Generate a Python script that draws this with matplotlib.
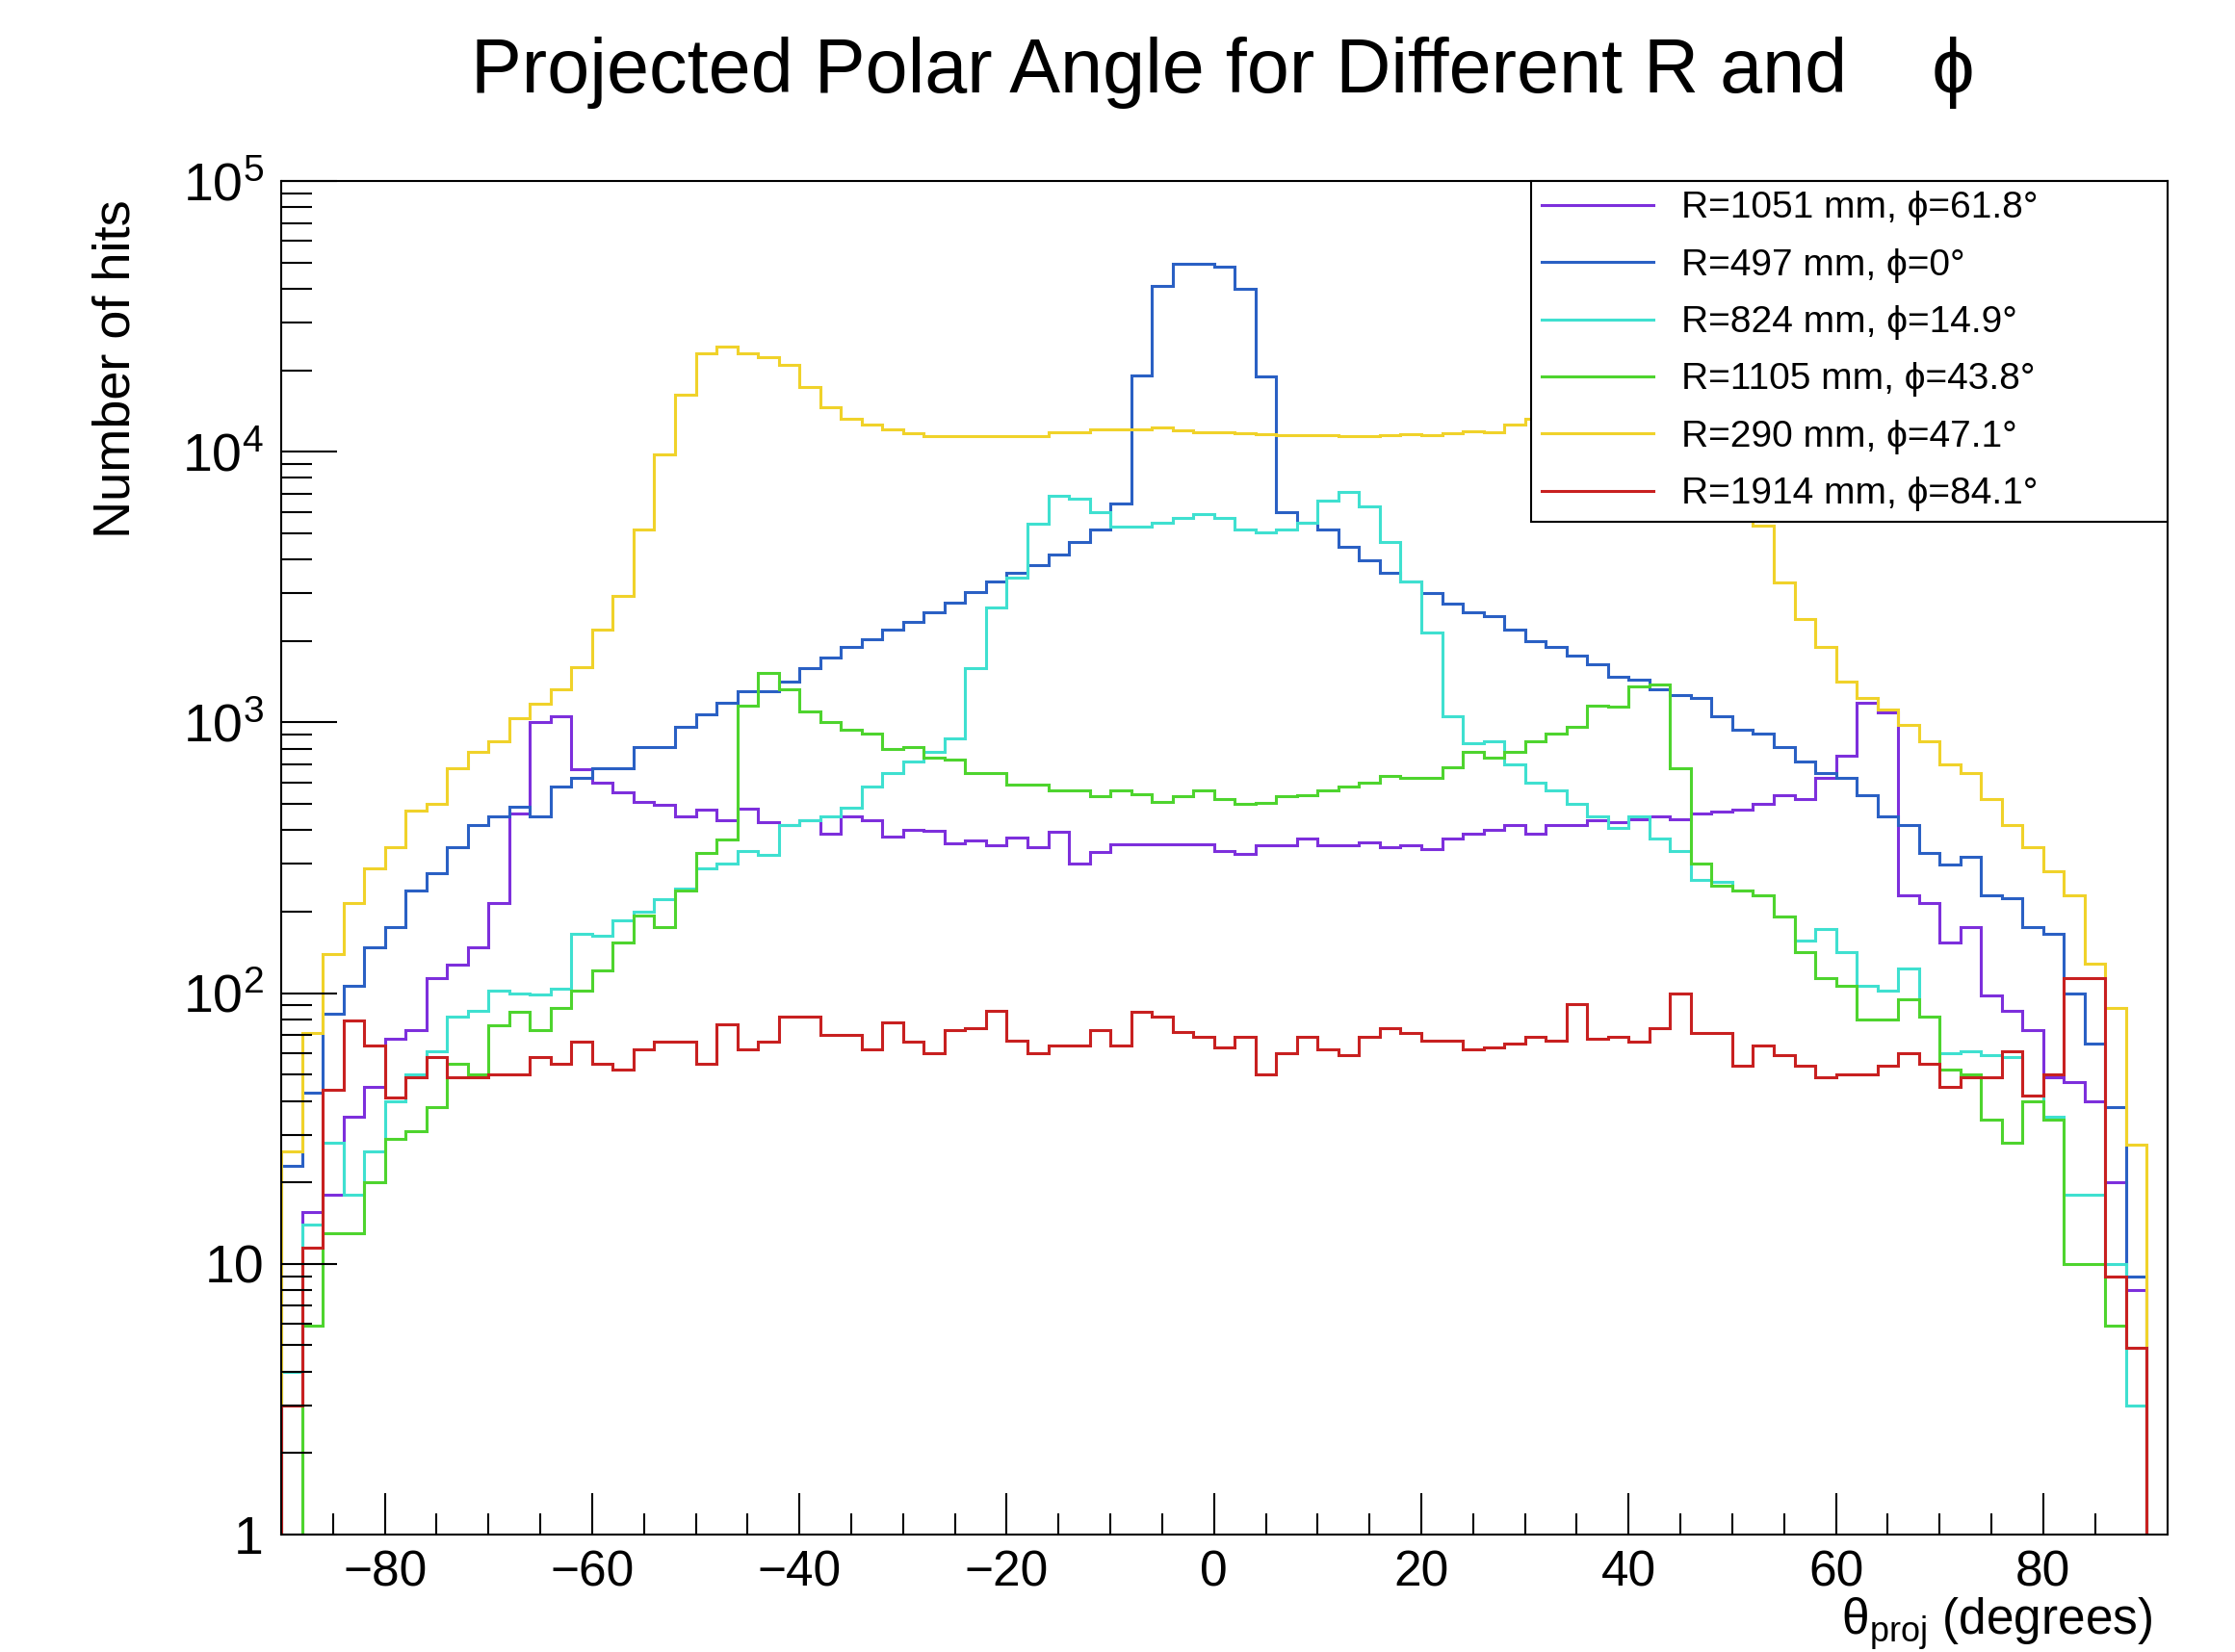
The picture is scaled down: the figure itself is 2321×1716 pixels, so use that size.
import matplotlib.pyplot as plt
import numpy as np
from matplotlib.lines import Line2D
from matplotlib.ticker import NullFormatter

plt.rcParams['font.family'] = ['Liberation Sans', 'DejaVu Sans']
plt.rcParams['mathtext.fontset'] = 'custom'
plt.rcParams['mathtext.rm'] = 'Liberation Sans'
plt.rcParams['mathtext.it'] = 'Liberation Sans:italic'

# 90 bins of 2 degrees from -90 to 90
edges = np.arange(-90, 91, 2)

labels = ['R=1051 mm, ϕ=61.8°', 'R=497 mm, ϕ=0°', 'R=824 mm, ϕ=14.9°',
          'R=1105 mm, ϕ=43.8°', 'R=290 mm, ϕ=47.1°', 'R=1914 mm, ϕ=84.1°']
colors = ['#7d2fdc', '#2a60c4', '#3fe0d0', '#4ed42e', '#f0d22a', '#c82020']

h_1051 = [0, 15.5, 18, 35, 45, 68, 73, 114, 127, 148,
          215, 460, 1000, 1050, 670, 600, 550, 510, 495, 450,
          475, 435, 480, 427, 417, 434, 388, 450, 434, 378,
          400, 397, 357, 367, 352, 375, 347, 395, 302, 333,
          355, 355, 355, 355, 355, 335, 326, 352, 352, 373,
          352, 352, 360, 347, 352, 340, 373, 388, 400, 417,
          388, 417, 417, 434, 427, 440, 450, 440, 460, 470,
          475, 500, 540, 520, 625, 755, 1180, 1090, 230, 215,
          154, 175, 98, 86, 73, 49, 47, 40, 20, 8]

h_497 = [23, 43, 84, 106, 148, 175, 240, 278, 347, 417,
         450, 490, 450, 580, 625, 675, 675, 810, 810, 960,
         1070, 1180, 1300, 1300, 1420, 1590, 1740, 1900, 2030, 2200,
         2350, 2560, 2760, 3020, 3310, 3570, 3800, 4160, 4650, 5150,
         6450, 19200, 41000, 49500, 49500, 48400, 40000, 19000, 6000, 5460,
         5150, 4470, 3970, 3570, 3310, 3010, 2750, 2560, 2470, 2200,
         1990, 1900, 1770, 1640, 1470, 1440, 1320, 1260, 1230, 1050,
         940, 910, 810, 716, 650, 625, 540, 450, 417, 330,
         299, 318, 230, 225, 175, 166, 100, 65, 38, 9]

h_824 = [4, 14, 28, 18, 26, 40, 50, 61, 82, 86,
         102, 100, 99, 104, 166, 163, 185, 200, 222, 243,
         288, 302, 334, 323, 417, 434, 450, 483, 580, 650,
         716, 780, 870, 1590, 2650, 3440, 5400, 6900, 6700, 6000,
         5300, 5300, 5460, 5700, 5860, 5700, 5150, 5030, 5150, 5460,
         6600, 7100, 6300, 4650, 3310, 2140, 1050, 840, 850, 700,
         600, 560, 500, 450, 408, 450, 373, 334, 262, 258,
         240, 230, 192, 156, 172, 142, 106, 102, 123, 82,
         60, 61, 59, 58, 42, 35, 18, 18, 10, 3]

h_1105 = [0, 5.9, 13, 13, 20, 29, 31, 38, 55, 50,
          76, 85, 73, 88, 102, 121, 154, 194, 176, 240,
          330, 370, 1150, 1520, 1320, 1100, 1000, 940, 910, 800,
          810, 740, 730, 650, 650, 590, 590, 560, 560, 535,
          560, 545, 510, 535, 560, 520, 500, 505, 535, 540,
          560, 580, 600, 635, 625, 625, 685, 780, 740, 780,
          850, 910, 960, 1150, 1140, 1360, 1380, 675, 300, 250,
          240, 230, 192, 142, 114, 106, 80, 80, 95, 82,
          52, 50, 34, 28, 40, 34, 10, 10, 5.9, 4.9]

h_290 = [26, 71, 139, 215, 288, 346, 473, 500, 675, 780,
         850, 1040, 1176, 1320, 1600, 2200, 2940, 5150, 9800, 16300,
         23000, 24500, 23000, 22300, 21000, 17300, 14600, 13200, 12600, 12100,
         11700, 11400, 11400, 11400, 11400, 11400, 11400, 11800, 11800, 12100,
         12100, 12100, 12300, 12000, 11800, 11800, 11700, 11600, 11500, 11500,
         11500, 11400, 11400, 11500, 11600, 11500, 11700, 11900, 11800, 12600,
         13200, 14600, 17300, 22300, 23500, 25200, 28000, 26000, 23500, 16500,
         10200, 5350, 3300, 2400, 1900, 1420, 1230, 1120, 980, 850,
         700, 650, 520, 417, 347, 282, 230, 128, 88, 27.6]

h_1914 = [3, 11.5, 44, 79, 64, 41, 49, 58, 49, 49,
          50, 50, 58, 55, 66, 55, 52, 62, 66, 66,
          55, 77, 62, 66, 82, 82, 70, 70, 62, 78,
          66, 60, 73, 74, 86, 67, 60, 64, 64, 73,
          64, 85, 82, 72, 69, 63, 69, 50, 60, 69,
          62, 59, 69, 74, 71, 67, 67, 62, 63, 65,
          69, 67, 91, 68, 69, 66, 74, 100, 71, 71,
          54, 64, 59, 54, 49, 50, 50, 54, 60, 55,
          45, 49, 49, 61, 42, 50, 114, 114, 9, 4.9]

series = [h_1051, h_497, h_824, h_1105, h_290, h_1914]

fig = plt.figure(figsize=(23.21, 17.16), dpi=100)
ax = fig.add_axes([292 / 2321, 1 - 1594 / 1716, 1959 / 2321, 1406 / 1716])

for vals, col in zip(series, colors):
    v = np.maximum(np.array(vals, dtype=float), 0.5)
    ax.stairs(v, edges, baseline=0.5, color=col, lw=2.2)

ax.set_yscale('log')
ax.set_ylim(1, 1e5)
ax.set_xlim(-90, 92)

ax.set_xticks(np.arange(-80, 81, 20))
ax.set_xticks(np.arange(-85, 90, 5), minor=True)
ax.set_yticks([1, 10, 100, 1e3, 1e4, 1e5],
              labels=['1', '10', r'$\mathregular{10^{2}}$', r'$\mathregular{10^{3}}$',
                      r'$\mathregular{10^{4}}$', r'$\mathregular{10^{5}}$'])
ax.yaxis.set_minor_formatter(NullFormatter())

ax.tick_params(which='both', direction='in', top=False, right=False, width=1.5)
ax.tick_params(axis='x', which='major', length=31, labelsize=37, pad=11)
ax.tick_params(axis='x', which='minor', length=16)
ax.tick_params(axis='y', which='major', length=42, labelsize=40, pad=13)
ax.tick_params(axis='y', which='minor', length=23)
for s in ax.spines.values():
    s.set_linewidth(1.5)

handles = [Line2D([], [], color=c, lw=2.2) for c in colors]
leg = ax.legend(handles, labels, loc='upper right', mode='expand',
                bbox_to_anchor=(0.6626, 0.7518, 0.3374, 0.2482),
                fontsize=28, fancybox=False, edgecolor='black', framealpha=1,
                borderaxespad=0, borderpad=0.27, handlelength=3.0,
                handletextpad=0.75, labelspacing=0.60)
leg.get_frame().set_linewidth(1.5)

fig.text(0.547, 0.956, 'Projected Polar Angle for Different R and    ϕ',
         ha='center', va='center', fontsize=57)
fig.text(0.052, 0.879, 'Number of hits', rotation=90, ha='center', va='top', fontsize=39)
fig.text(0.963, 0.0105, r'$\mathregular{\theta_{proj}}$ (degrees)', ha='right',
         va='baseline', fontsize=37)

fig.savefig('out.png', dpi=100)
